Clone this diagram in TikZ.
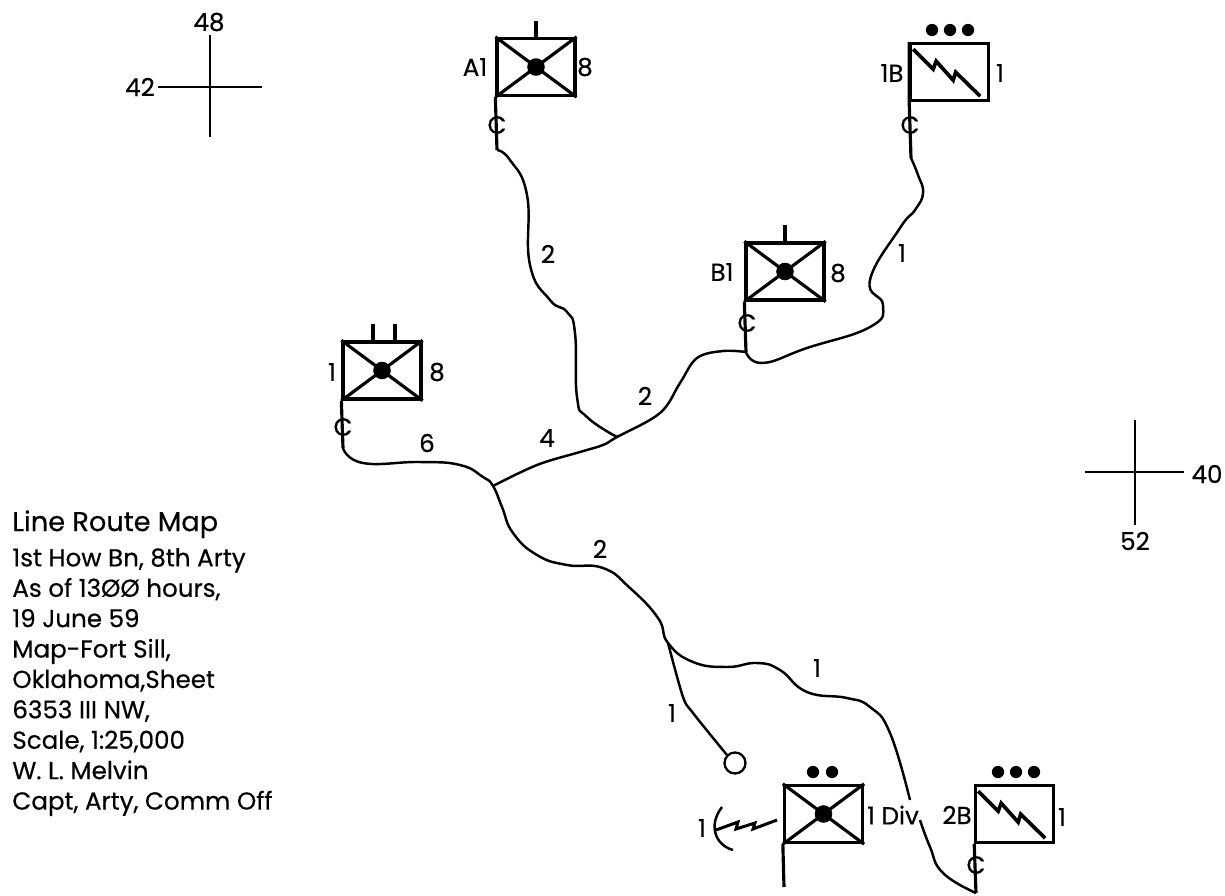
\documentclass[tikz,border=0pt]{standalone}
\usepackage{fontspec}
\setmainfont{Poppins}[FakeBold=0.4]
\usetikzlibrary{calc}
\begin{document}
\begin{tikzpicture}[
  x=0.02cm,y=-0.02cm,
  unit/.style={draw,line width=1.9pt,minimum width=1.56cm,minimum height=1.14cm,inner sep=0pt},
  staff/.style={line width=1.8pt},
  route/.style={line width=1.4pt,line join=round},
  grid/.style={line width=1.2pt},
  lbl/.style={font=\fontsize{14}{16}\selectfont,inner sep=0pt},
  dot/.style={circle,fill=black,inner sep=0pt,minimum size=7pt},
  every node/.style={text=black},
]
  \useasboundingbox (0,0) rectangle (1225,896);

  % Grid references
  \node[lbl] (n48) at (209,22) {48};
  \node[lbl] (n42) at (140,87) {42};
  \node[lbl] (n40) at (1207,474) {40};
  \node[lbl] (n52) at (1135,541) {52};
  \coordinate (tickA) at (158,87);
  \coordinate (tickB) at (1184,472);
  \draw[grid] (210,35) -- (210,137);
  \draw[grid] (tickA) -- (262,87);
  \draw[grid] (1135,420) -- (1135,525);
  \draw[grid] (1085,472) -- (tickB);

  % Units
  \node[unit] (batA) at (536,67) {};
  \node[unit] (batB) at (785,271.5) {};
  \node[unit] (bn) at (382,370.5) {};
  \node[unit] (div) at (823.5,814) {};
  \node[unit,line width=1.5pt] (sigA) at (949.5,72) {};
  \node[unit,line width=1.5pt] (sigB) at (1014.5,814) {};

  % Crossed boxes with centre dot
  \foreach \u in {batA,batB,bn,div} {
    \draw[staff] (\u.north west) -- (\u.south east);
    \draw[staff] (\u.south west) -- (\u.north east);
    \node[circle,fill=black,inner sep=0pt,minimum size=10pt] (\u dot) at (\u) {};
  }

  % Lightning marks
  \foreach \u in {sigA,sigB} {
    \draw[line width=2.1pt] ([shift={(4,7)}]\u.north west) -- ++(20,20) -- ++(3,-8) -- ++(17,19) -- ++(2.5,-8) -- ++(24.5,24);
  }

  % Echelon marks
  \draw[staff] (batA.north) -- ++(0,-16);
  \draw[staff] (batB.north) -- ++(0,-16);
  \draw[staff] ([xshift=-0.18cm]bn.north) -- ++(0,-16);
  \draw[staff] ([xshift=0.26cm]bn.north) -- ++(0,-16);
  \node[dot] (sigA1) at (932,30) {};
  \node[dot] (sigA2) at (950,30) {};
  \node[dot] (sigA3) at (968,30) {};
  \node[dot] (div1) at (813,772) {};
  \node[dot] (div2) at (832,772) {};
  \node[dot] (sigB1) at (998,772) {};
  \node[dot] (sigB2) at (1016,772) {};
  \node[dot] (sigB3) at (1034,772) {};

  % Staffs
  \coordinate (endA) at (497,150);
  \coordinate (endB) at (746,352);
  \coordinate (endC) at (343,448);
  \coordinate (endD) at (911,158);
  \coordinate (endE) at (784,887);
  \coordinate (endF) at (976,893);
  \draw[staff] (batA.south west) -- (endA);
  \draw[staff] (batB.south west) -- (endB);
  \draw[staff] (bn.south west) -- (endC);
  \draw[staff] (sigA.north west) -- (sigA.south west) -- (endD);
  \draw[staff] (div.south west) -- (endE);
  \draw[staff] (sigB.south west) -- (endF);

  % Unit labels
  \node[lbl] (lblA) at (475,67) {A1};
  \node[lbl] (lblA8) at (585,67) {8};
  \node[lbl] (lblB) at (722,272) {B1};
  \node[lbl] (lblB8) at (838,273) {8};
  \node[lbl] (lblC) at (332,372) {1};
  \node[lbl] (lblC8) at (437,372) {8};
  \node[lbl] (lblD) at (892,73) {1B};
  \node[lbl] (lblD1) at (1000,73) {1};
  \node[lbl] (lblE) at (702,828) {1};
  \node[lbl] (lblE1) at (893,815) {1 Div};
  \node[lbl] (lblF) at (957,815) {2B};
  \node[lbl] (lblF1) at (1062,817) {1};

  % Switchboard marks
  \node[lbl] (cA) at (497,125) {C};
  \node[lbl] (cB) at (747,323) {C};
  \node[lbl] (cC) at (343,427) {C};
  \node[lbl] (cD) at (910,125) {C};
  \node[lbl] (cF) at (976,865) {C};

  % Routes
  \coordinate (jnA) at (493,486);
  \coordinate (jnB) at (617,437);
  \coordinate (jnC) at (668,643);
  \coordinate (gapA) at (910,800);
  \coordinate (gapB) at (920,820);
  \node[draw,line width=1.3pt,circle,minimum size=0.42cm,inner sep=0pt] (term) at (735,763) {};
  \draw[route] plot[smooth,tension=0.8] coordinates {(endA) (510,160) (527,195) (530,265) (550,300) (567,312) (575,333) (577,397) (587,417) (jnB)};
  \draw[route] plot[smooth,tension=0.6] coordinates {(jnA) (537,465) (580,452) (603,445) (jnB) (660,413) (680,383) (697,358) (723,351) (endB)};
  \draw[route] plot[smooth,tension=0.8] coordinates {(endD) (918,175) (923,193) (915,210) (900,228) (870,280) (883,305) (870,327) (807,348) (763,363) (endB)};
  \draw[route] plot[smooth,tension=0.8] coordinates {(endC) (363,463) (420,462) (460,465) (483,477) (jnA) (502,507) (513,533) (537,555) (567,565) (603,568) (630,588) (658,618) (jnC) (693,662) (727,667) (757,663) (780,670) (807,692) (847,698) (870,707) (890,733) (gapA)};
  \draw[route] plot[smooth,tension=0.8] coordinates {(gapB) (930,847) (943,873) (endF)};
  \draw[route] plot[smooth,tension=0.5] coordinates {(jnC) (683,697) (693,713) (term.north west)};

  % Radio link
  \draw[route] (722,807) .. controls (708,825) and (715,845) .. (733,850);
  \draw[line width=1.7pt] (716,830) -- (738,822) -- (736,829) -- (755,823) -- (753,829) -- (777,820);

  % Route counts
  \node[lbl] (cnt2a) at (548,254) {2};
  \node[lbl] (cnt1a) at (902,253) {1};
  \node[lbl] (cnt2b) at (645,396) {2};
  \node[lbl] (cnt4) at (547,438) {4};
  \node[lbl] (cnt6) at (427,443) {6};
  \node[lbl] (cnt2c) at (600,549) {2};
  \node[lbl] (cnt1b) at (817,668) {1};
  \node[lbl] (cnt1c) at (672,713) {1};

  % Map legend
  \node[anchor=north west,align=left,inner sep=0pt,font=\fontsize{14}{17.3}\selectfont] (legend) at (12,510) {%
    {\fontsize{15.5}{17.3}\selectfont Line Route Map}\\[2.8pt]
    1st How Bn, 8th Arty\\
    As of 13ØØ hours,\\
    19 June 59\\
    Map-Fort Sill,\\
    Oklahoma,Sheet\\
    6353 III NW,\\
    Scale, 1:25,000\\
    W. L. Melvin\\
    Capt, Arty, Comm Off};
\end{tikzpicture}
\end{document}
